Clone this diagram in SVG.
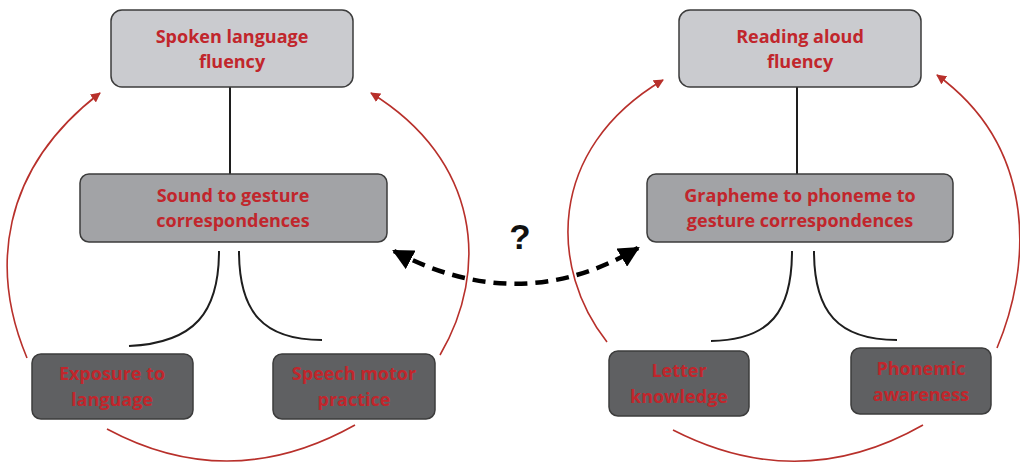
<svg xmlns="http://www.w3.org/2000/svg" width="1020" height="463" viewBox="0 0 1020 463">
<style>
.box{stroke:#3c3c3c;stroke-width:1.5}
.top{fill:#cacbcf}
.mid{fill:#a2a3a6}
.bot{fill:#5f6062}
.t{font-family:"Open Sans","Liberation Sans",sans-serif;font-weight:bold;font-size:18px;fill:#c1262c;text-anchor:middle}
.red{fill:none;stroke:#b8302b;stroke-width:1.6}
.blk{fill:none;stroke:#1e1e1e;stroke-width:2}
.dash{fill:none;stroke:#000;stroke-width:4.5;stroke-dasharray:13 8}
</style>
<defs>
<marker id="ra" viewBox="0 0 10 10" refX="9" refY="5" markerWidth="10" markerHeight="10" markerUnits="userSpaceOnUse" orient="auto"><path d="M0,0 L10,5 L0,10 z" fill="#b8302b"/></marker>
<marker id="ba" viewBox="0 0 10 10" refX="9" refY="5" markerWidth="21" markerHeight="21" markerUnits="userSpaceOnUse" orient="auto-start-reverse"><path d="M0,0 L10,5 L0,10 z" fill="#000"/></marker>
</defs>
<g id="connectors">
<line class="blk" x1="230" y1="87" x2="230" y2="174"/>
<line class="blk" x1="797" y1="87" x2="797" y2="174"/>
<path class="blk" d="M219,251 C219,312 195,343 129,346"/>
<path class="blk" d="M239,251 C239,312 263,340 322,340"/>
<path class="blk" d="M792,251 C792,312 770,340 711,341"/>
<path class="blk" d="M814,251 C814,312 838,340 897,340"/>
<path class="red" d="M27,358 C-10,270 0,170 100,93" marker-end="url(#ra)"/>
<path class="red" d="M440,355 C490,270 480,160 371,93" marker-end="url(#ra)"/>
<path class="red" d="M107,429 Q230,495 355,425"/>
<path class="red" d="M607,342 C550,270 545,150 663,80" marker-end="url(#ra)"/>
<path class="red" d="M997,348 C1030,270 1040,150 937,75" marker-end="url(#ra)"/>
<path class="red" d="M673,430 Q800,495 923,425"/>
<path class="dash" d="M394,251 Q520,318 638,248" marker-start="url(#ba)" marker-end="url(#ba)"/>
<text x="520" y="249" font-family="Liberation Sans,Arial,sans-serif" font-weight="bold" font-size="35" text-anchor="middle" fill="#111">?</text>
</g>
<g id="spoken">
<rect class="box top" x="111" y="10" width="242" height="77" rx="11"/>
<text class="t" x="232" y="43">Spoken language</text>
<text class="t" x="232" y="68">fluency</text>
</g>
<g id="sound">
<rect class="box mid" x="80" y="174" width="307" height="68" rx="9"/>
<text class="t" x="233" y="202">Sound to gesture</text>
<text class="t" x="233" y="227">correspondences</text>
</g>
<g id="exposure">
<rect class="box bot" x="32" y="354" width="161" height="65" rx="9"/>
<text class="t" x="112" y="380">Exposure to</text>
<text class="t" x="112" y="406">language</text>
</g>
<g id="speech">
<rect class="box bot" x="273" y="354" width="162" height="65" rx="9"/>
<text class="t" x="354" y="380">Speech motor</text>
<text class="t" x="354" y="406">practice</text>
</g>
<g id="reading">
<rect class="box top" x="679" y="10" width="242" height="77" rx="11"/>
<text class="t" x="800" y="43">Reading aloud</text>
<text class="t" x="800" y="68">fluency</text>
</g>
<g id="grapheme">
<rect class="box mid" x="647" y="174" width="306" height="68" rx="9"/>
<text class="t" x="800" y="202">Grapheme to phoneme to</text>
<text class="t" x="800" y="227">gesture correspondences</text>
</g>
<g id="letter">
<rect class="box bot" x="609" y="351" width="140" height="65" rx="9"/>
<text class="t" x="679" y="377">Letter</text>
<text class="t" x="679" y="403">knowledge</text>
</g>
<g id="phonemic">
<rect class="box bot" x="851" y="348" width="140" height="66" rx="9"/>
<text class="t" x="921" y="375">Phonemic</text>
<text class="t" x="921" y="401">awareness</text>
</g>
</svg>
